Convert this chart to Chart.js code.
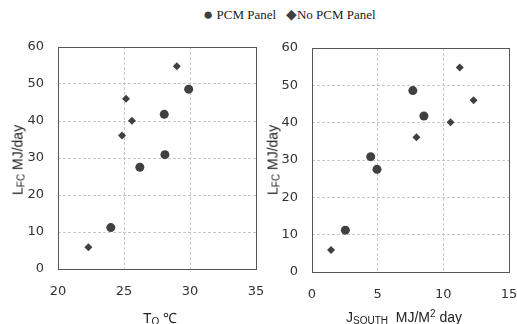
<!DOCTYPE html>
<html>
<head>
<meta charset="utf-8">
<script src="https://cdn.jsdelivr.net/npm/chart.js@4.4.0/dist/chart.umd.min.js"></script>
<style>
  body { margin: 0; background: #fff; width: 517px; height: 324px; position: relative; overflow: hidden; }
  .box { position: absolute; top: 40px; height: 284px; }
  .legend { position: absolute; top: 5px; left: 203px; font: 13px "Liberation Serif", serif; color: #222; white-space: nowrap; }
  .legend span.m { color: #404040; font-size: 17px; vertical-align: -1px; }
  .legend span.d { color: #404040; font-size: 14px; }
  .ttl { position: absolute; font: 14px "Liberation Sans", Arial, sans-serif; color: #222; white-space: nowrap; }
  .ttl sub { font-size: 10px; vertical-align: -2px; }
  .ttl sup { font-size: 10px; vertical-align: 5px; }
  .rot { transform: translate(-50%, -50%) rotate(-90deg); }
  .hx { transform: translateX(-50%); }
</style>
</head>
<body>
<div class="legend"><span class="m">●</span> PCM Panel &nbsp;&nbsp;<span class="d">◆</span>No PCM Panel</div>
<div class="box" style="left:258px;width:259px"><canvas id="solarChart"></canvas></div>
<div class="box" style="left:0;width:272px"><canvas id="tempChart"></canvas></div>
<div class="ttl rot" style="left:18px;top:160px">L<sub>FC</sub> MJ/day</div>
<div class="ttl rot" style="left:273px;top:160px">L<sub>FC</sub> MJ/day</div>
<div class="ttl hx" style="left:160px;top:308px">T<sub>O</sub> ℃</div>
<div class="ttl hx" style="left:404px;top:308px">J<sub>SOUTH</sub>&nbsp; MJ/M<sup>2</sup> day</div>
<script>
// daily load (MJ/day) vs outdoor temperature and south solar radiation
const pcmLoad   = [11.2, 27.5, 30.9, 41.8, 48.6];
const pcmTemp   = [24.0, 26.2, 28.1, 28.05, 29.9];
const pcmSolar  = [2.54, 4.95, 4.47, 8.52, 7.68];

const noPcmLoad  = [5.9, 36.1, 46.0, 40.1, 54.8];
const noPcmTemp  = [22.3, 24.85, 25.15, 25.6, 29.0];
const noPcmSolar = [1.45, 7.95, 12.3, 10.55, 11.25];

const loadTicks  = [0, 10, 20, 30, 40, 50, 60];
const tempTicks  = [20, 25, 30, 35];
const solarTicks = [0, 5, 10, 15];

const frame = {
    id: 'frame',
    afterDraw(chart) {
        const a = chart.chartArea, c = chart.ctx;
        c.save();
        c.strokeStyle = '#555';
        c.lineWidth = 1;
        c.strokeRect(Math.round(a.left) + 0.5, Math.round(a.top) + 0.5, Math.round(a.right - a.left), Math.round(a.bottom - a.top));
        c.restore();
    }
};

function pts(xs, ys) { return xs.map((x, i) => ({ x: x, y: ys[i] })); }

function makeChart(id, xTicks, pcmX, noPcmX, pad, yW, xH) {
    const tickFont = { family: 'DejaVu Sans', size: 13 };
    const grid = { color: '#c8c8c8', drawTicks: false };
    new Chart(document.getElementById(id), {
        type: 'scatter',
        data: {
            datasets: [
                { label: 'PCM Panel', data: pts(pcmX, pcmLoad), pointStyle: 'circle', pointRadius: 4.5,
                  backgroundColor: '#404040', borderColor: '#404040', borderWidth: 0 },
                { label: 'No PCM Panel', data: pts(noPcmX, noPcmLoad), pointStyle: 'rectRot', pointRadius: 4,
                  backgroundColor: '#404040', borderColor: '#404040', borderWidth: 0 }
            ]
        },
        options: {
            responsive: true,
            maintainAspectRatio: false,
            animation: false,
            layout: { padding: pad },
            plugins: { legend: { display: false }, tooltip: { enabled: false } },
            scales: {
                x: {
                    min: xTicks[0], max: xTicks[xTicks.length - 1],
                    ticks: { stepSize: xTicks[1] - xTicks[0], font: tickFont, color: '#333', padding: 15, maxRotation: 0 },
                    grid: grid,
                    border: { display: false, dash: [3, 2] },
                    afterFit: s => { s.height = xH; s.paddingLeft = 0; s.paddingRight = 0; }
                },
                y: {
                    min: loadTicks[0], max: loadTicks[loadTicks.length - 1],
                    ticks: { stepSize: loadTicks[1] - loadTicks[0], font: tickFont, color: '#333', padding: 14 },
                    grid: grid,
                    border: { display: false, dash: [3, 2] },
                    afterFit: s => { s.width = yW; s.paddingTop = 0; s.paddingBottom = 0; }
                }
            }
        },
        plugins: [frame]
    });
}

makeChart('tempChart', tempTicks, pcmTemp, noPcmTemp, { top: 7, right: 16, left: 0, bottom: 0 }, 58, 55);
makeChart('solarChart', solarTicks, pcmSolar, noPcmSolar, { top: 8, right: 8, left: 0, bottom: 0 }, 54, 52);
</script>
</body>
</html>
